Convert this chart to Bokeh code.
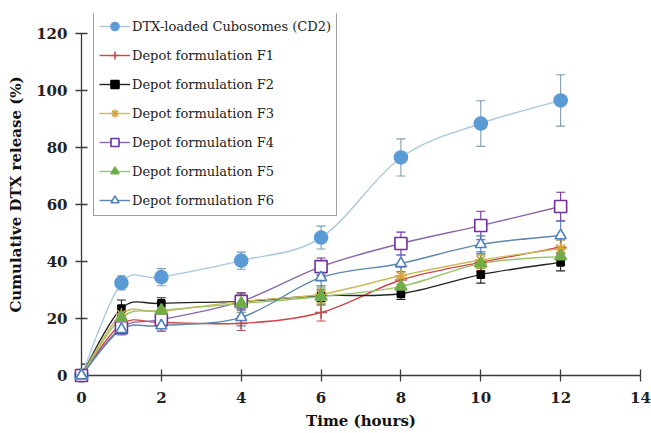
from bokeh.plotting import figure
from bokeh.models import ColumnDataSource, Whisker, TeeHead, Legend, LegendItem, Range1d, FixedTicker
from bokeh.embed import file_html
from bokeh.resources import INLINE

# ---------------- data ----------------
time_h = [0, 1, 2, 4, 6, 8, 10, 12]

cd2 = [0, 32.5, 34.5, 40.3, 48.4, 76.5, 88.4, 96.5]
cd2_err = [0, 2.5, 3, 3, 4, 6.5, 8, 9]

f1 = [0, 18.0, 18.6, 18.3, 22.1, 33.5, 39.7, 45.0]
f1_err = [0, 3, 3, 2.5, 3, 3, 3, 3]

f2 = [0, 23.5, 25.3, 26.0, 28.0, 28.7, 35.4, 39.7]
f2_err = [4, 3, 2, 2, 2, 2, 3, 3]

f3 = [0, 21.5, 22.5, 26.0, 28.5, 35.0, 40.5, 44.5]
f3_err = [0, 3, 3, 3, 3, 3, 3, 3]

f4 = [0, 16.8, 19.6, 26.0, 38.2, 46.3, 52.6, 59.3]
f4_err = [0, 2, 3, 3, 3, 4, 5, 5]

f5 = [0, 20.3, 22.8, 25.2, 27.7, 31.2, 39.3, 41.8]
f5_err = [0, 3, 3, 3, 3, 3, 3, 3]

f6 = [0, 16.2, 17.5, 20.4, 34.4, 39.3, 46.0, 49.1]
f6_err = [0, 2, 2, 3, 3, 3, 3, 5]

labels = ["DTX-loaded Cubosomes (CD2)", "Depot formulation F1", "Depot formulation F2",
          "Depot formulation F3", "Depot formulation F4", "Depot formulation F5",
          "Depot formulation F6"]
values = [cd2, f1, f2, f3, f4, f5, f6]
errors = [cd2_err, f1_err, f2_err, f3_err, f4_err, f5_err, f6_err]

x_ticks = [0, 2, 4, 6, 8, 10, 12, 14]
y_ticks = [0, 20, 40, 60, 80, 100, 120]

# ---------------- styles ----------------
styles = [
    dict(line="#A9C8DE", marker="circle", size=13, fill="#5B9BD5", mline="#5B9BD5", err="#7F9DB3"),
    dict(line="#D0454A", marker="cross", size=12, fill=None, mline="#C0504D", err="#C0504D"),
    dict(line="#222222", marker="square", size=7, fill="#000000", mline="#000000", err="#222222"),
    dict(line="#CDBB55", marker="asterisk", size=12, fill=None, mline="#D9A43A", err="#B89A3A"),
    dict(line="#8A66AA", marker="square", size=12, fill=None, mline="#7030A0", err="#7030A0"),
    dict(line="#9BC36B", marker="triangle", size=12, fill="#70AD47", mline="#70AD47", err="#5E8C3C"),
    dict(line="#5F87AD", marker="triangle", size=11, fill=None, mline="#4F81BD", err="#4F81BD"),
]


def bezier_source(xs, ys):
    n = len(xs)
    d = dict(x0=[], y0=[], x1=[], y1=[], cx0=[], cy0=[], cx1=[], cy1=[])
    for i in range(n - 1):
        a = i - 1 if i > 0 else i
        b = i + 2 if i + 2 < n else i + 1
        d["x0"].append(xs[i]); d["y0"].append(ys[i])
        d["x1"].append(xs[i + 1]); d["y1"].append(ys[i + 1])
        d["cx0"].append(xs[i] + (xs[i + 1] - xs[a]) / 6.0)
        d["cy0"].append(ys[i] + (ys[i + 1] - ys[a]) / 6.0)
        d["cx1"].append(xs[i + 1] - (xs[b] - xs[i]) / 6.0)
        d["cy1"].append(ys[i + 1] - (ys[b] - ys[i]) / 6.0)
    return ColumnDataSource(d)


p = figure(width=651, height=433, x_range=Range1d(0, 14), y_range=Range1d(0, 127),
           output_backend="svg", toolbar_location=None,
           min_border_left=81, min_border_right=11, min_border_top=13, min_border_bottom=58)
p.grid.visible = False
p.outline_line_color = None
p.background_fill_color = "white"

axis_color = "#3A3A3A"
for ax in (p.xaxis[0], p.yaxis[0]):
    ax.axis_line_color = axis_color
    ax.axis_line_width = 1.3
    ax.major_tick_line_color = axis_color
    ax.major_tick_line_width = 1.3
    ax.major_tick_in = 6
    ax.major_tick_out = 6
    ax.minor_tick_line_color = None
    ax.major_label_text_font = "DejaVu Serif"
    ax.major_label_text_font_style = "bold"
    ax.major_label_text_font_size = "15px"
    ax.major_label_text_color = "#222222"
    ax.axis_label_text_font = "DejaVu Serif"
    ax.axis_label_text_font_style = "bold"
    ax.axis_label_text_font_size = "15px"
    ax.axis_label_text_color = "#111111"

p.xaxis.ticker = FixedTicker(ticks=x_ticks)
p.yaxis.ticker = FixedTicker(ticks=y_ticks)
p.xaxis.bounds = (0, 14)
p.yaxis.bounds = (0, 120)
p.xaxis.axis_label = "Time (hours)"
p.yaxis.axis_label = "Cumulative DTX release (%)"
p.yaxis.major_label_standoff = 8
p.yaxis.axis_label_standoff = 8
p.xaxis.major_label_standoff = 10
p.xaxis.axis_label_standoff = 6

items = []
for lab, vals, errs, st in zip(labels, values, errors, styles):
    p.bezier(x0="x0", y0="y0", x1="x1", y1="y1", cx0="cx0", cy0="cy0", cx1="cx1", cy1="cy1",
             source=bezier_source(time_h, vals), line_color=st["line"], line_width=1.4)
    lo = [v - e for v, e in zip(vals, errs)]
    hi = [v + e for v, e in zip(vals, errs)]
    src = ColumnDataSource(dict(x=time_h, y=vals, lo=lo, hi=hi))
    w = Whisker(base="x", lower="lo", upper="hi", source=src, dimension="height",
                line_color=st["err"], line_width=1.1,
                upper_head=TeeHead(size=9, line_color=st["err"], line_width=1.1),
                lower_head=TeeHead(size=9, line_color=st["err"], line_width=1.1))
    p.add_layout(w)
    # single-point line: draws nothing on the plot, only provides the legend's line sample
    leg_line = p.line(x=time_h[:1], y=vals[:1], line_color=st["line"], line_width=1.4)
    kw = dict(marker=st["marker"], size=st["size"], line_color=st["mline"], line_width=1.6)
    if st["fill"] is None:
        kw["fill_color"] = "white" if st["marker"] in ("square", "triangle") else None
    else:
        kw["fill_color"] = st["fill"]
    sr = p.scatter(x="x", y="y", source=src, level="overlay", **kw)
    items.append(LegendItem(label=lab, renderers=[leg_line, sr]))

legend = Legend(items=items, location=(12, 159), margin=0, padding=5, spacing=9,
                label_height=20, glyph_height=20, glyph_width=31, label_standoff=2,
                border_line_color="#404040", border_line_width=1.5,
                label_text_font="DejaVu Serif", label_text_font_size="13px",
                label_text_color="#222222", background_fill_color="white",
                background_fill_alpha=1.0)
p.add_layout(legend)

open("out.html", "w").write(file_html(p, INLINE))
